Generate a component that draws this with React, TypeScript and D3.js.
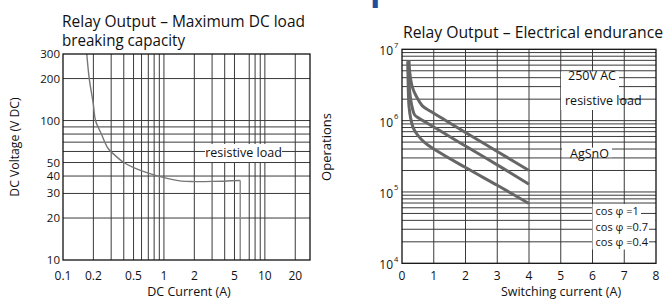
import React from "react";
import * as d3 from "d3";

// left chart: max DC load breaking capacity
const dcCurrent = [0.172, 0.182, 0.2, 0.21, 0.24, 0.28, 0.33, 0.4, 0.5, 0.7, 1, 1.5, 2, 3, 5.7];
const dcVoltage = [300, 200, 130, 100, 80, 63, 56, 50, 46, 42, 39, 36.8, 36.5, 36.6, 37.2];
const dcDropTo = 10;
const leftXTicks = [0.1, 0.2, 0.5, 1, 2, 5, 10, 20];
const leftYTicks = [10, 20, 30, 40, 50, 100, 200, 300];
const leftXGrid = [0.2, 0.3, 0.4, 0.5, 0.6, 0.7, 0.8, 0.9, 1, 2, 3, 4, 5, 7, 8, 9, 10, 20];
const leftYGrid = [20, 30, 40, 50, 60, 70, 80, 90, 100, 200];

// right chart: electrical endurance, 250V AC resistive load
const cos1Current = [0.22, 0.25, 0.32, 0.45, 0.65, 0.9, 1.35, 2, 3, 4];
const cos1Ops = [7.0e6, 4.5e6, 3.0e6, 2.2e6, 1.6e6, 1.35e6, 1.02e6, 6.8e5, 3.7e5, 2.0e5];
const cos07Current = [0.2, 0.21, 0.24, 0.3, 0.4, 0.55, 0.8, 1.2, 2, 3, 4];
const cos07Ops = [6.5e6, 4.0e6, 2.6e6, 1.7e6, 1.2e6, 1.07e6, 9.2e5, 7.2e5, 4.4e5, 2.4e5, 1.28e5];
const cos04Current = [0.18, 0.19, 0.2, 0.22, 0.27, 0.35, 0.5, 0.7, 1, 2, 3, 4];
const cos04Ops = [6.8e6, 4.0e6, 2.5e6, 1.6e6, 1.1e6, 8.0e5, 6.2e5, 5.0e5, 4.0e5, 2.2e5, 1.24e5, 6.9e4];
const rightXTicks = [0, 1, 2, 3, 4, 5, 6, 7, 8];
const rightYTicks = [1e4, 1e5, 1e6, 1e7];
const cosLabels = ["cos φ =1", "cos φ =0.7", "cos φ =0.4"];

const font = "'Open Sans', 'Noto Sans', sans-serif";
const gridColor = "#3a3a3a";

export default function App() {
  const xL = d3.scaleLog().domain([0.1, 28]).range([63, 310]);
  const yL = d3.scaleLog().domain([10, 300]).range([260, 54]);

  const xR = d3.scaleLinear().domain([0, 8]).range([402, 656]);
  const yR = d3.scaleLog().domain([1e4, 1e7]).range([263.3, 49.3]);

  const lineL = d3
    .line<number>()
    .x((d, i) => xL(dcCurrent[i]))
    .y((d) => yL(d))
    .curve(d3.curveCatmullRom.alpha(0.5));

  const endX = dcCurrent[dcCurrent.length - 1];
  const endY = dcVoltage[dcVoltage.length - 1];

  const lineR = (xs: number[], ys: number[]) =>
    d3
      .line<number>()
      .x((d, i) => xR(xs[i]))
      .y((d) => yR(d))
      .curve(d3.curveCatmullRom.alpha(0.5))(ys) || "";

  const series = [
    { xs: cos1Current, ys: cos1Ops },
    { xs: cos07Current, ys: cos07Ops },
    { xs: cos04Current, ys: cos04Ops },
  ];

  const rGridY = yR.ticks().filter((v) => v > 1e4 && v < 1e7);
  const rGridX = rightXTicks.filter((v) => v > 0 && v < 8);

  // stubs of gridlines visible right of the cos labels
  const cosStubs = [5e4, 3e4, 2e4];
  const cosStubStart = [641, 649, 649];

  return (
    <svg
      width={666}
      height={299}
      style={{ position: "absolute", left: 0, top: 0, background: "#fff" }}
      fontFamily={font}
    >
      {/* cut-off blue heading fragment */}
      <text x={370} y={0} fontSize={34} fontWeight="bold" fill="#1d4f9e">
        p
      </text>

      {/* ---------- left chart ---------- */}
      <text x={62} y={27} fontSize={17} textLength={243} lengthAdjust="spacingAndGlyphs" fill="#111">
        Relay Output – Maximum DC load
      </text>
      <text x={62} y={46} fontSize={17} textLength={123} lengthAdjust="spacingAndGlyphs" fill="#111">
        breaking capacity
      </text>

      <g stroke={gridColor} strokeWidth={1}>
        {leftXGrid.map((v) => (
          <line key={"lx" + v} x1={xL(v)} x2={xL(v)} y1={yL(300)} y2={yL(10)} />
        ))}
        {leftYGrid.map((v) => (
          <line key={"ly" + v} x1={xL(0.1)} x2={xL(28)} y1={yL(v)} y2={yL(v)} />
        ))}
      </g>

      <rect x={205} y={144} width={77} height={18} fill="#fff" />
      <text x={243.5} y={156.5} fontSize={12.5} textAnchor="middle" fill="#111">
        resistive load
      </text>

      <path d={lineL(dcVoltage) || ""} fill="none" stroke="#777" strokeWidth={1.4} />
      <line x1={xL(endX)} x2={xL(endX)} y1={yL(endY)} y2={yL(dcDropTo)} stroke="#888" strokeWidth={1.4} />

      <rect x={63} y={54} width={247} height={206} fill="none" stroke="#111" strokeWidth={1.3} />

      <g fontSize={11.5} fill="#111">
        {leftYTicks.map((v) => (
          <text key={"lyt" + v} x={60} y={yL(v)} dy="0.35em" textAnchor="end">
            {v}
          </text>
        ))}
        {leftXTicks.map((v) => (
          <text key={"lxt" + v} x={xL(v)} y={280} fontSize={12} textAnchor="middle">
            {v}
          </text>
        ))}
      </g>
      <text x={189} y={295.5} fontSize={12.5} textAnchor="middle" fill="#111">
        DC Current (A)
      </text>
      <text transform="translate(19,147) rotate(-90)" fontSize={12.2} textAnchor="middle" fill="#111">
        DC Voltage (V DC)
      </text>

      {/* ---------- right chart ---------- */}
      <text x={403} y={37.5} fontSize={16} textLength={260} lengthAdjust="spacingAndGlyphs" fill="#111">
        Relay Output – Electrical endurance
      </text>
      <text transform="translate(331,147) rotate(-90)" fontSize={13} textAnchor="middle" fill="#111">
        Operations
      </text>

      <g stroke={gridColor} strokeWidth={1}>
        {rGridX.map((v) => (
          <line key={"rx" + v} x1={xR(v)} x2={xR(v)} y1={yR(1e7)} y2={yR(1e4)} />
        ))}
        {rGridY.map((v) => (
          <line key={"ry" + v} x1={xR(0)} x2={xR(8)} y1={yR(v)} y2={yR(v)} />
        ))}
      </g>

      {series.map((s, i) => (
        <path key={"s" + i} d={lineR(s.xs, s.ys)} fill="none" stroke="#666" strokeWidth={3} />
      ))}

      {/* 250V AC / resistive load label */}
      <rect x={561} y={71.5} width={58} height={38.5} fill="#fff" />
      <text x={568} y={80} fontSize={12.5} fill="#111">
        250V AC
      </text>
      <text x={565} y={105} fontSize={12.5} fill="#111">
        resistive load
      </text>

      {/* AgSnO label */}
      <rect x={562} y={147.6} width={50} height={9.6} fill="#fff" />
      <text x={570} y={158} fontSize={12.5} fill="#111">
        AgSnO
      </text>

      {/* cos phi legend */}
      <rect x={592.5} y={204} width={63} height={45.5} fill="#fff" />
      <g stroke={gridColor} strokeWidth={1}>
        {cosStubs.map((v, i) => (
          <line key={"cs" + v} x1={cosStubStart[i]} x2={xR(8)} y1={yR(v)} y2={yR(v)} />
        ))}
      </g>
      <g fontSize={11} fill="#111">
        {cosLabels.map((t, i) => (
          <text key={t} x={595.5} y={[215, 231, 246][i]}>
            {t}
          </text>
        ))}
      </g>

      <rect x={xR(0)} y={yR(1e7)} width={xR(8) - xR(0)} height={yR(1e4) - yR(1e7)} fill="none" stroke="#111" strokeWidth={1.3} />

      <g fill="#111">
        {rightYTicks.map((v) => {
          const exp = Math.round(Math.log10(v));
          return (
            <g key={"ryt" + v}>
              <text x={393} y={yR(v) + 6} fontSize={12} textAnchor="end">
                10
              </text>
              <text x={394} y={yR(v) - 1.5} fontSize={7.5}>
                {exp}
              </text>
            </g>
          );
        })}
        {rightXTicks.map((v) => (
          <text key={"rxt" + v} x={xR(v)} y={280} fontSize={12} textAnchor="middle">
            {v}
          </text>
        ))}
      </g>
      <text x={561} y={295.5} fontSize={12.5} textAnchor="middle" fill="#111">
        Switching current (A)
      </text>
    </svg>
  );
}
